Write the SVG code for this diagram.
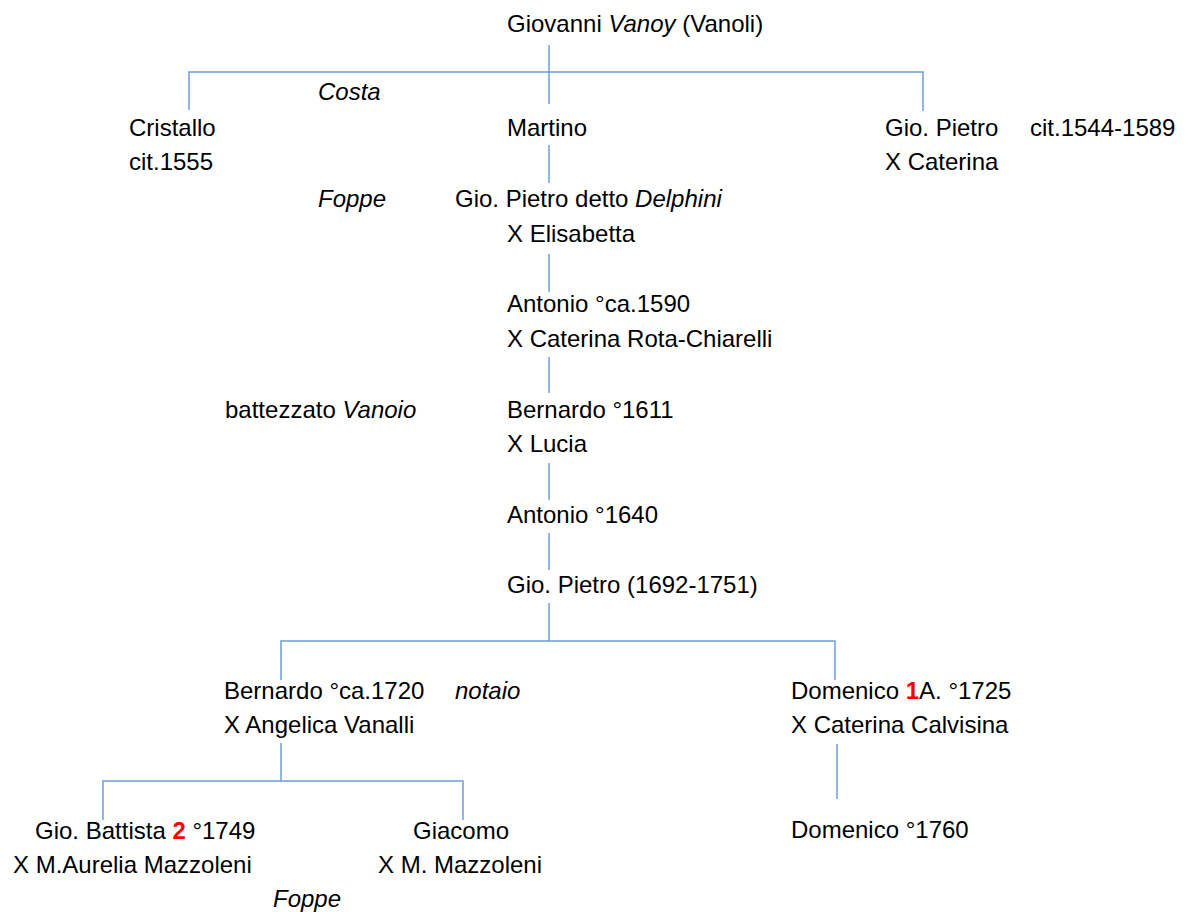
<svg xmlns="http://www.w3.org/2000/svg" width="1188" height="912" viewBox="0 0 1188 912">
<style>
text{font-family:"Liberation Sans",Arial,sans-serif;font-size:24px;fill:#000}
.i{font-style:italic}
.r{fill:#ff0000;font-weight:bold}
.c{fill:none;stroke:#6a9fd6;stroke-width:1.5}
</style>
<rect width="1188" height="912" fill="#fff"/>
<g id="connectors">
<path class="c" d="M549,45V104"/>
<path class="c" d="M189,110V72H923V111"/>
<path class="c" d="M549,145V183"/>
<path class="c" d="M549,254V292"/>
<path class="c" d="M549,357V393"/>
<path class="c" d="M549,463V500"/>
<path class="c" d="M549,533V570"/>
<path class="c" d="M549,603V641"/>
<path class="c" d="M281,680V641H835V680"/>
<path class="c" d="M281,743V781"/>
<path class="c" d="M103,820V781H463V820"/>
<path class="c" d="M837,744V799"/>
</g>
<g id="giovanni"><text x="507" y="32">Giovanni <tspan class="i">Vanoy</tspan> (Vanoli)</text></g>
<g id="costa"><text class="i" x="318" y="100">Costa</text></g>
<g id="cristallo"><text x="129" y="136">Cristallo</text><text x="129" y="170">cit.1555</text></g>
<g id="martino"><text x="507" y="136">Martino</text></g>
<g id="giopietro1"><text x="885" y="136">Gio. Pietro</text><text x="1030" y="136">cit.1544-1589</text><text x="885" y="170">X Caterina</text></g>
<g id="foppe1"><text class="i" x="318" y="207">Foppe</text></g>
<g id="delphini"><text x="455" y="207">Gio. Pietro detto <tspan class="i">Delphini</tspan></text><text x="507" y="242">X Elisabetta</text></g>
<g id="antonio1590"><text x="507" y="312">Antonio °ca.1590</text><text x="507" y="347">X Caterina Rota-Chiarelli</text></g>
<g id="battezzato"><text x="225" y="418">battezzato <tspan class="i">Vanoio</tspan></text></g>
<g id="bernardo1611"><text x="507" y="418">Bernardo °1611</text><text x="507" y="452">X Lucia</text></g>
<g id="antonio1640"><text x="507" y="523">Antonio °1640</text></g>
<g id="giopietro1692"><text x="507" y="593">Gio. Pietro (1692-1751)</text></g>
<g id="bernardo1720"><text x="224" y="699">Bernardo °ca.1720</text><text x="224" y="733">X Angelica Vanalli</text></g>
<g id="notaio"><text class="i" x="455" y="699">notaio</text></g>
<g id="domenico1725"><text x="791" y="699">Domenico <tspan class="r">1</tspan>A. °1725</text><text x="791" y="733">X Caterina Calvisina</text></g>
<g id="giobattista"><text x="35" y="839">Gio. Battista <tspan class="r">2</tspan> °1749</text><text x="13" y="873">X M.Aurelia Mazzoleni</text></g>
<g id="giacomo"><text x="413" y="839">Giacomo</text><text x="378" y="873">X M. Mazzoleni</text></g>
<g id="foppe2"><text class="i" x="273" y="907">Foppe</text></g>
<g id="domenico1760"><text x="791" y="838">Domenico °1760</text></g>
</svg>
